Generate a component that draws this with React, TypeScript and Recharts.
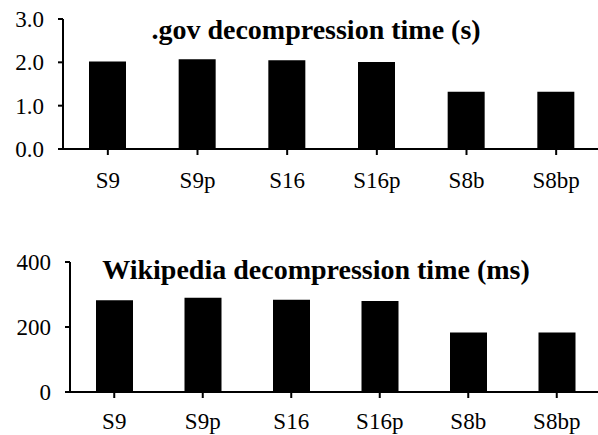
import React from 'react';
import { BarChart, Bar, XAxis, YAxis } from 'recharts';

const categories = ['S9', 'S9p', 'S16', 'S16p', 'S8b', 'S8bp'];
const govSeconds = [2.02, 2.07, 2.05, 2.01, 1.32, 1.32];
const wikiMillis = [282, 290, 284, 280, 183, 183];
const govTicks = [0, 1, 2, 3];
const wikiTicks = [0, 200, 400];

const govData = categories.map((name, i) => ({ name, value: govSeconds[i] }));
const wikiData = categories.map((name, i) => ({ name, value: wikiMillis[i] }));

const font = '"Liberation Serif", "Times New Roman", Times, serif';

// svg text falls back to a sans face here, so tick labels are html inside foreignObject
const labelStyle: React.CSSProperties = {
  fontFamily: font,
  fontSize: 23,
  lineHeight: '23px',
  color: '#000',
  whiteSpace: 'nowrap',
};

const XTick = (props: any) => (
  <foreignObject x={props.x - 50} y={props.y - 3} width={100} height={28}>
    <div style={{ ...labelStyle, textAlign: 'center' }}>{String(props.payload.value)}</div>
  </foreignObject>
);

const makeYTick = (fmt: (v: number) => string) => (props: any) => (
  <foreignObject x={props.x - 60} y={props.y - 11} width={60} height={28}>
    <div style={{ ...labelStyle, textAlign: 'right' }}>{fmt(props.payload.value)}</div>
  </foreignObject>
);

interface PanelProps {
  data: { name: string; value: number }[];
  ticks: number[];
  domainMax: number;
  title: string;
  yWidth: number;
  top: number;
  height: number;
  marginTop: number;
  xHeight: number;
  xMargin: number;
  titleTop: number;
  fmt: (v: number) => string;
}

const Panel: React.FC<PanelProps> = ({ data, ticks, domainMax, title, yWidth, top, height, marginTop, xHeight, xMargin, titleTop, fmt }) => (
  <div style={{ position: 'absolute', left: 0, top, width: 602, height, fontFamily: font }}>
    <BarChart
      width={602}
      height={height}
      data={data}
      margin={{ top: marginTop, right: 1, bottom: 0, left: 0 }}
    >
      <XAxis
        dataKey="name"
        height={xHeight}
        axisLine={{ stroke: '#000', strokeWidth: 2 }}
        tickLine={{ stroke: '#000', strokeWidth: 2 }}
        tickSize={6}
        tick={XTick}
        tickMargin={xMargin}
        interval={0}
        scale="band"
      />
      <YAxis
        width={yWidth}
        domain={[0, domainMax]}
        ticks={ticks}
        allowDataOverflow
        axisLine={{ stroke: '#000', strokeWidth: 2 }}
        tickLine={{ stroke: '#000', strokeWidth: 2 }}
        tickSize={5}
        tick={makeYTick(fmt)}
        tickMargin={14}
      />
      <Bar dataKey="value" fill="#000" barSize={37} isAnimationActive={false} />
    </BarChart>
    <div
      style={{
        position: 'absolute',
        left: 316,
        top: titleTop,
        transform: 'translateX(-50%)',
        whiteSpace: 'nowrap',
        fontFamily: font,
        fontWeight: 'bold',
        fontSize: 28,
        color: '#000',
      }}
    >
      {title}
    </div>
  </div>
);

export default function App() {
  return (
    <div style={{ position: 'absolute', left: 0, top: 0, width: 598, height: 435, background: '#fff', overflow: 'hidden' }}>
      <Panel
        data={govData}
        ticks={govTicks}
        domainMax={3}
        title=".gov decompression time (s)"
        yWidth={63}
        top={0}
        height={200}
        marginTop={19}
        xHeight={51}
        xMargin={17}
        titleTop={14}
        fmt={(v) => v.toFixed(1)}
      />
      <Panel
        data={wikiData}
        ticks={wikiTicks}
        domainMax={400}
        title="Wikipedia decompression time (ms)"
        yWidth={70}
        top={240}
        height={195}
        marginTop={22}
        xHeight={43}
        xMargin={15}
        titleTop={14}
        fmt={(v) => String(v)}
      />
    </div>
  );
}
